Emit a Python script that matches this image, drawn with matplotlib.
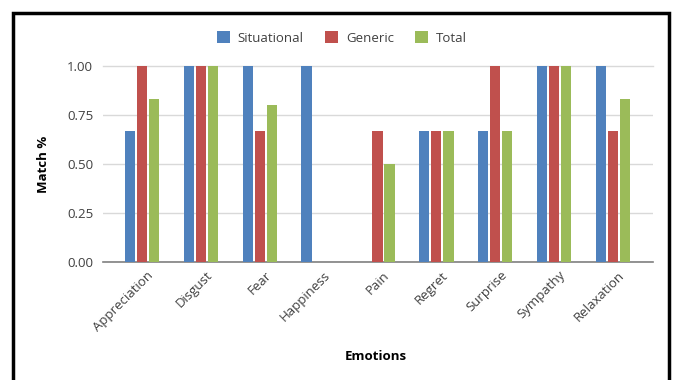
import matplotlib
matplotlib.use("Agg")
import matplotlib.pyplot as plt
from matplotlib.patches import Rectangle
from matplotlib.transforms import ScaledTranslation
import numpy as np

emotions = ["Appreciation", "Disgust", "Fear", "Happiness", "Pain",
            "Regret", "Surprise", "Sympathy", "Relaxation"]
situational = [0.667, 1.0, 1.0, 1.0, 0.0, 0.667, 0.667, 1.0, 1.0]
generic = [1.0, 1.0, 0.667, 0.0, 0.667, 0.667, 1.0, 1.0, 0.667]
total = [0.833, 1.0, 0.8, 0.0, 0.5, 0.667, 0.667, 1.0, 0.833]
series_names = ["Situational", "Generic", "Total"]
y_ticks = [0.0, 0.25, 0.5, 0.75, 1.0]

colors = ["#4F81BD", "#C0504D", "#9BBB59"]

plt.rcParams["font.family"] = ["Open Sans", "DejaVu Sans"]

W, H = 675, 380
fig = plt.figure(figsize=(W / 100, H / 100), dpi=100)
fig.patch.set_facecolor("white")

# outer frame
fig.patches.append(Rectangle((12.5 / W, -0.05), (669 - 12.5) / W, 1 - 12.5 / H + 0.05,
                             transform=fig.transFigure, fill=False,
                             edgecolor="black", linewidth=2.5, zorder=10))

ax = fig.add_axes([103 / W, 1 - 262 / H, (653 - 103) / W, (262 - 66) / H])
x = np.arange(len(emotions))
step = 0.205
bw = 0.175
for i, (vals, name) in enumerate(zip([situational, generic, total], series_names)):
    ax.bar(x + (i - 1) * step, vals, width=bw, color=colors[i], label=name, zorder=3)

ax.set_xlim(-0.662, 8.68)
ax.set_ylim(0, 1.0)
ax.set_yticks(y_ticks)
ax.set_yticklabels([f"{v:.2f}" for v in y_ticks], color="#404040", fontsize=9.5)
ax.yaxis.grid(True, color="#D9D9D9", linewidth=1, zorder=0)
ax.set_axisbelow(True)
for s in ["top", "right", "left"]:
    ax.spines[s].set_visible(False)
ax.spines["bottom"].set_color("#808080")
ax.spines["bottom"].set_linewidth(1.2)
ax.tick_params(axis="y", length=0, pad=7)
ax.tick_params(axis="x", length=0, pad=2)
ax.set_xticks(x)
ax.set_xticklabels(emotions, rotation=45, ha="right", rotation_mode="anchor",
                   color="#404040", fontsize=9.5)
shift = ScaledTranslation(5 / 100, -4 / 100, fig.dpi_scale_trans)
for lbl in ax.get_xticklabels():
    lbl.set_transform(lbl.get_transform() + shift)
ax.yaxis.get_major_ticks()[-1].gridline.set_clip_on(False)

ax.set_ylabel("Match %", fontsize=9.5, fontweight="bold", labelpad=12)
fig.text(376 / W, 1 - 357 / H, "Emotions", ha="center", va="center",
         fontsize=9.5, fontweight="bold")

fig.legend(loc="center", bbox_to_anchor=(342 / W, 1 - 38 / H), ncol=3,
           frameon=False, fontsize=9.5, handlelength=1.0, handleheight=1.0,
           columnspacing=1.6, handletextpad=0.6, labelcolor="#404040")

fig.savefig("out.png", dpi=100)
